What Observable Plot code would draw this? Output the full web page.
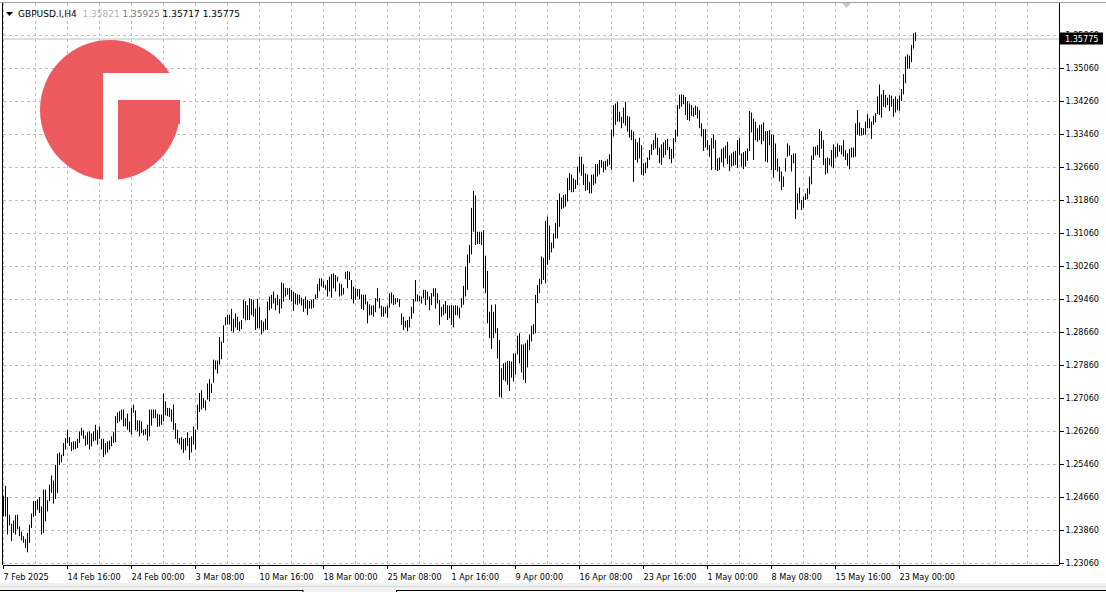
<!DOCTYPE html>
<html><head><meta charset="utf-8">
<script src="https://cdn.jsdelivr.net/npm/d3@7"></script>
<script src="https://cdn.jsdelivr.net/npm/@observablehq/plot@0.6"></script>
<style>
html,body{margin:0;padding:0;background:#fff;overflow:hidden}
#chart{position:relative;width:1106px;height:592px}
</style></head><body><div id="chart"></div>
<script>
// ---- data (GBPUSD.I, H4) ----
const symbol = "GBPUSD.I,H4";
const lastBar = {open:1.35821, high:1.35925, low:1.35717, close:1.35775};
const high = [
1.2469,1.2493,1.2466,1.2423,1.2401,1.2409,1.2422,1.2423,1.2395,1.2382,
1.2371,1.2364,1.2379,1.2399,1.2426,1.2456,1.2456,1.2460,1.2466,1.2443,
1.2484,1.2484,1.2458,1.2496,1.2518,1.2506,1.2544,1.2571,1.2574,1.2569,
1.2597,1.2609,1.2629,1.2611,1.2599,1.2601,1.2601,1.2607,1.2625,1.2634,
1.2628,1.2615,1.2623,1.2625,1.2620,1.2625,1.2641,1.2628,1.2637,1.2607,
1.2607,1.2597,1.2601,1.2603,1.2613,1.2623,1.2662,1.2671,1.2674,1.2678,
1.2678,1.2657,1.2668,1.2649,1.2682,1.2690,1.2676,1.2652,1.2652,1.2649,
1.2629,1.2631,1.2641,1.2678,1.2678,1.2678,1.2678,1.2668,1.2666,1.2666,
1.2717,1.2698,1.2682,1.2682,1.2678,1.2690,1.2645,1.2629,1.2609,1.2611,
1.2607,1.2609,1.2623,1.2609,1.2613,1.2637,1.2629,1.2690,1.2718,1.2725,
1.2706,1.2700,1.2741,1.2752,1.2741,1.2799,1.2797,1.2797,1.2854,1.2843,
1.2882,1.2902,1.2908,1.2908,1.2922,1.2898,1.2911,1.2903,1.2891,1.2895,
1.2944,1.2941,1.2931,1.2948,1.2946,1.2944,1.2923,1.2946,1.2927,1.2895,
1.2891,1.2899,1.2940,1.2952,1.2956,1.2964,1.2948,1.2956,1.2946,1.2986,
1.2984,1.2973,1.2972,1.2973,1.2968,1.2964,1.2960,1.2957,1.2956,1.2949,
1.2946,1.2952,1.2944,1.2941,1.2944,1.2946,1.2957,1.2982,1.2996,1.2996,
1.2990,1.2980,1.2992,1.3000,1.3006,1.3008,1.3004,1.3000,1.2984,1.2982,
1.2973,1.3012,1.3014,1.3012,1.2992,1.2976,1.2972,1.2970,1.2970,1.2957,
1.2956,1.2957,1.2940,1.2933,1.2930,1.2931,1.2948,1.2972,1.2948,1.2930,
1.2927,1.2927,1.2930,1.2960,1.2962,1.2956,1.2948,1.2948,1.2946,1.2911,
1.2903,1.2893,1.2895,1.2903,1.2927,1.2946,1.2992,1.2957,1.2954,1.2952,
1.2968,1.2968,1.2964,1.2952,1.2960,1.2972,1.2972,1.2960,1.2944,1.2927,
1.2933,1.2941,1.2931,1.2930,1.2931,1.2930,1.2931,1.2930,1.2925,1.2948,
1.2978,1.3024,1.3054,1.3077,1.3167,1.3208,1.3197,1.3109,1.3109,1.3109,
1.3113,1.3051,1.3014,1.2915,1.2932,1.2915,1.2933,1.2875,1.2847,1.2778,
1.2790,1.2792,1.2796,1.2796,1.2794,1.2814,1.2814,1.2857,1.2863,1.2836,
1.2836,1.2839,1.2847,1.2860,1.2881,1.2885,1.2956,1.2980,1.2995,1.3049,
1.3046,1.3135,1.3146,1.3124,1.3083,1.3105,1.3130,1.3186,1.3202,1.3192,
1.3198,1.3200,1.3239,1.3251,1.3248,1.3239,1.3235,1.3267,1.3291,1.3291,
1.3273,1.3251,1.3248,1.3230,1.3247,1.3248,1.3273,1.3273,1.3283,1.3283,
1.3279,1.3281,1.3285,1.3297,1.3356,1.3416,1.3420,1.3424,1.3400,1.3388,
1.3410,1.3424,1.3390,1.3388,1.3356,1.3352,1.3334,1.3326,1.3337,1.3319,
1.3275,1.3277,1.3289,1.3307,1.3321,1.3331,1.3348,1.3337,1.3313,1.3321,
1.3326,1.3331,1.3334,1.3315,1.3310,1.3336,1.3356,1.3416,1.3441,1.3442,
1.3441,1.3436,1.3426,1.3420,1.3416,1.3410,1.3415,1.3412,1.3404,1.3372,
1.3358,1.3358,1.3331,1.3319,1.3336,1.3345,1.3331,1.3287,1.3289,1.3310,
1.3313,1.3318,1.3327,1.3294,1.3299,1.3303,1.3305,1.3331,1.3336,1.3299,
1.3302,1.3305,1.3311,1.3402,1.3398,1.3384,1.3376,1.3360,1.3368,1.3369,
1.3374,1.3353,1.3353,1.3356,1.3345,1.3344,1.3323,1.3287,1.3267,1.3255,
1.3243,1.3287,1.3323,1.3318,1.3295,1.3299,1.3299,1.3202,1.3216,1.3186,
1.3194,1.3202,1.3214,1.3243,1.3294,1.3315,1.3315,1.3319,1.3358,1.3353,
1.3331,1.3287,1.3289,1.3287,1.3307,1.3321,1.3315,1.3323,1.3319,1.3318,
1.3331,1.3307,1.3299,1.3310,1.3313,1.3313,1.3372,1.3404,1.3374,1.3361,
1.3360,1.3376,1.3394,1.3384,1.3376,1.3390,1.3396,1.3437,1.3466,1.3442,
1.3453,1.3441,1.3434,1.3441,1.3439,1.3431,1.3437,1.3431,1.3439,1.3455,
1.3491,1.3534,1.3539,1.3536,1.3562,1.3590,1.35925];
const low = [
1.2419,1.2419,1.2375,1.2397,1.2359,1.2379,1.2375,1.2388,1.2371,1.2361,
1.2355,1.2342,1.2332,1.2355,1.2391,1.2418,1.2421,1.2435,1.2427,1.2375,
1.2379,1.2407,1.2431,1.2456,1.2476,1.2450,1.2461,1.2476,1.2544,1.2550,
1.2565,1.2581,1.2597,1.2590,1.2577,1.2581,1.2582,1.2585,1.2597,1.2615,
1.2607,1.2590,1.2593,1.2581,1.2589,1.2601,1.2603,1.2593,1.2607,1.2581,
1.2563,1.2569,1.2574,1.2581,1.2589,1.2597,1.2599,1.2645,1.2649,1.2653,
1.2637,1.2637,1.2629,1.2623,1.2617,1.2670,1.2628,1.2625,1.2613,1.2621,
1.2615,1.2617,1.2603,1.2613,1.2639,1.2657,1.2657,1.2636,1.2637,1.2641,
1.2649,1.2664,1.2662,1.2660,1.2649,1.2629,1.2607,1.2597,1.2593,1.2581,
1.2573,1.2579,1.2590,1.2556,1.2574,1.2593,1.2581,1.2629,1.2672,1.2678,
1.2682,1.2676,1.2702,1.2698,1.2718,1.2743,1.2775,1.2765,1.2787,1.2800,
1.2840,1.2882,1.2884,1.2884,1.2868,1.2865,1.2877,1.2871,1.2868,1.2873,
1.2899,1.2894,1.2895,1.2895,1.2907,1.2903,1.2871,1.2875,1.2875,1.2860,
1.2867,1.2871,1.2871,1.2919,1.2923,1.2935,1.2919,1.2931,1.2911,1.2923,
1.2940,1.2952,1.2956,1.2944,1.2940,1.2917,1.2933,1.2931,1.2935,1.2930,
1.2915,1.2923,1.2907,1.2923,1.2922,1.2925,1.2946,1.2948,1.2965,1.2976,
1.2973,1.2968,1.2952,1.2964,1.2949,1.2972,1.2964,1.2988,1.2952,1.2954,
1.2957,1.2994,1.2972,1.2992,1.2946,1.2935,1.2944,1.2952,1.2946,1.2922,
1.2919,1.2933,1.2887,1.2906,1.2907,1.2903,1.2914,1.2940,1.2923,1.2903,
1.2903,1.2911,1.2901,1.2925,1.2935,1.2931,1.2933,1.2938,1.2927,1.2883,
1.2871,1.2877,1.2868,1.2877,1.2898,1.2911,1.2940,1.2940,1.2940,1.2935,
1.2948,1.2931,1.2944,1.2919,1.2931,1.2952,1.2923,1.2935,1.2883,1.2903,
1.2907,1.2911,1.2895,1.2899,1.2883,1.2877,1.2907,1.2906,1.2899,1.2925,
1.2932,1.2952,1.2968,1.3033,1.3054,1.3109,1.3077,1.3079,1.3079,1.3077,
1.2972,1.2960,1.2887,1.2851,1.2825,1.2851,1.2863,1.2802,1.2709,1.2707,
1.2750,1.2746,1.2738,1.2723,1.2755,1.2746,1.2763,1.2812,1.2790,1.2768,
1.2750,1.2742,1.2780,1.2822,1.2843,1.2860,1.2863,1.2936,1.2960,1.2982,
1.2992,1.2984,1.3029,1.3041,1.3059,1.3069,1.3093,1.3093,1.3121,1.3164,
1.3166,1.3170,1.3182,1.3210,1.3205,1.3205,1.3213,1.3222,1.3253,1.3245,
1.3222,1.3208,1.3210,1.3202,1.3202,1.3222,1.3226,1.3243,1.3248,1.3264,
1.3253,1.3259,1.3267,1.3271,1.3259,1.3340,1.3368,1.3376,1.3376,1.3360,
1.3372,1.3366,1.3352,1.3337,1.3331,1.3230,1.3283,1.3277,1.3287,1.3247,
1.3245,1.3251,1.3263,1.3283,1.3295,1.3307,1.3311,1.3295,1.3275,1.3271,
1.3289,1.3295,1.3307,1.3285,1.3275,1.3287,1.3327,1.3340,1.3407,1.3412,
1.3418,1.3392,1.3380,1.3378,1.3390,1.3388,1.3392,1.3384,1.3360,1.3340,
1.3305,1.3313,1.3307,1.3291,1.3259,1.3311,1.3259,1.3256,1.3259,1.3277,
1.3267,1.3287,1.3273,1.3256,1.3267,1.3269,1.3271,1.3264,1.3295,1.3267,
1.3261,1.3267,1.3281,1.3305,1.3350,1.3283,1.3331,1.3327,1.3331,1.3321,
1.3329,1.3279,1.3277,1.3319,1.3259,1.3240,1.3259,1.3255,1.3231,1.3210,
1.3218,1.3255,1.3291,1.3294,1.3255,1.3275,1.3140,1.3162,1.3178,1.3162,
1.3167,1.3186,1.3188,1.3200,1.3224,1.3283,1.3294,1.3295,1.3289,1.3310,
1.3271,1.3248,1.3251,1.3271,1.3267,1.3263,1.3287,1.3291,1.3303,1.3297,
1.3291,1.3283,1.3269,1.3261,1.3289,1.3289,1.3291,1.3344,1.3342,1.3342,
1.3344,1.3344,1.3360,1.3360,1.3334,1.3368,1.3374,1.3394,1.3392,1.3386,
1.3412,1.3410,1.3416,1.3402,1.3412,1.3388,1.3398,1.3404,1.3402,1.3426,
1.3442,1.3469,1.3504,1.3505,1.3520,1.3553,1.35717];
const xTickIdx = [0,32,64,96,128,160,192,224,256,288,320,352,384,416,448];
const xTickLabels = ["7 Feb 2025","14 Feb 16:00","24 Feb 00:00","3 Mar 08:00","10 Mar 16:00",
  "18 Mar 00:00","25 Mar 08:00","1 Apr 16:00","9 Apr 00:00","16 Apr 08:00","23 Apr 16:00",
  "1 May 00:00","8 May 08:00","15 May 16:00","23 May 00:00"];
const yTickLabels = ["1.23060","1.23860","1.24660","1.25460","1.26260","1.27060","1.27860",
  "1.28660","1.29460","1.30260","1.31060","1.31860","1.32660","1.33460","1.34260","1.35060","1.35860"];
const xGridIdx = [0,16,32,48,64,80,96,112,128,144,160,176,192,208,224,240,256,272,288,304,320,
  336,352,368,384,400,416,432,448,464,480,496,512];

// ---- chart ----
const yTicks = yTickLabels.map(Number);
const bars = high.map((h, i) => ({i, h, l: low[i]}));
const yMin = 1.230115, yMax = 1.366358;
const FONT = "'DejaVu Sans Condensed','DejaVu Sans',sans-serif";

const chart = Plot.plot({
  width: 1106, height: 592,
  marginLeft: 3, marginRight: 47, marginTop: 3, marginBottom: 27,
  style: {fontFamily: FONT, fontSize: "9px", background: "#fff", color: "#000", overflow: "visible"},
  x: {type: "linear", domain: [0, 528], label: null},
  y: {type: "linear", domain: [yMin, yMax], label: null},
  marks: [
    Plot.ruleY(yTicks, {stroke: "#c0c0c0", strokeDasharray: "3,3", strokeOpacity: 1}),
    Plot.ruleX(xGridIdx, {stroke: "#c0c0c0", strokeDasharray: "3,3", strokeOpacity: 1}),
    Plot.ruleY([lastBar.close], {stroke: "#c0c0c0", strokeOpacity: 1}),
    Plot.ruleX(bars, {x: "i", y1: "l", y2: "h", stroke: "#000", strokeWidth: 1, strokeOpacity: 1}),
    Plot.ruleX([528], {stroke: "#000", strokeOpacity: 1}),
    Plot.ruleX([-0.5], {stroke: "#000", strokeOpacity: 1}),
    Plot.ruleY([yMin], {stroke: "#000", strokeOpacity: 1}),
    Plot.axisY(yTicks, {anchor: "right", tickSize: 4, tickPadding: 2, textAnchor: "start",
      tickFormat: d => yTickLabels[yTicks.indexOf(d)], fontSize: 9, fill: "#000", stroke: "#000"}),
    Plot.axisX(xTickIdx, {anchor: "bottom", tickSize: 4, tickPadding: 4, textAnchor: "start",
      tickFormat: d => xTickLabels[xTickIdx.indexOf(d)], fontSize: 9, fill: "#000", stroke: "#000"})
  ]
});
document.getElementById("chart").appendChild(chart);

// decorations using the plot's scales
const svg = d3.select(chart);
const X = chart.scale("x"), Y = chart.scale("y");
const xr = X.apply(528), yc = Y.apply(lastBar.close);

// top border
svg.append("line").attr("x1", 0).attr("x2", 1106).attr("y1", 2.5).attr("y2", 2.5).attr("stroke", "#a0a0a0");

// current price label
svg.append("rect").attr("x", xr + 1).attr("y", yc - 6).attr("width", 43).attr("height", 12).attr("fill", "#000");
svg.append("text").attr("x", xr + 6).attr("y", yc + 3.3).attr("fill", "#fff").attr("text-anchor", "start")
  .attr("font-family", FONT).attr("font-size", 9).text(lastBar.close.toFixed(5));

// header
svg.append("path").attr("d", "M6,12 L13,12 L9.5,16 Z").attr("fill", "#000");
const ht = svg.append("text").attr("x", 18).attr("y", 17.2).attr("text-anchor", "start")
  .attr("font-family", "'DejaVu Sans',sans-serif").attr("font-size", 9);
ht.append("tspan").attr("fill", "#000").text(symbol + "  ");
ht.append("tspan").attr("fill", "#b4b4b4").text(lastBar.open.toFixed(5) + " ");
ht.append("tspan").attr("fill", "#7a7a7a").text(lastBar.high.toFixed(5) + " ");
ht.append("tspan").attr("fill", "#000").text(lastBar.low.toFixed(5) + " " + lastBar.close.toFixed(5));

// logo
const g = svg.append("g");
const red = "#ec5a60";
g.append("circle").attr("cx", 110).attr("cy", 110).attr("r", 70).attr("fill", red);
g.append("rect").attr("x", 103).attr("y", 73).attr("width", 80).attr("height", 27).attr("fill", "#fff");
g.append("rect").attr("x", 103).attr("y", 73).attr("width", 15).attr("height", 110).attr("fill", "#fff");
g.append("rect").attr("x", 118).attr("y", 100).attr("width", 62).attr("height", 24).attr("fill", red);

// shift marker
svg.append("path").attr("d", "M842,3 L851,3 L846.5,8 Z").attr("fill", "#c8c8c8");

// bottom tab strip
svg.append("rect").attr("x", 0).attr("y", 583).attr("width", 1106).attr("height", 9).attr("fill", "#f0f0f0");
svg.append("line").attr("x1", 0).attr("x2", 1106).attr("y1", 586.5).attr("y2", 586.5).attr("stroke", "#d8d8d8");
svg.append("rect").attr("x", -1).attr("y", 590.5).attr("width", 304).attr("height", 4).attr("fill", "#fff").attr("stroke", "#000");
svg.append("rect").attr("x", 396.5).attr("y", 590.5).attr("width", 711).attr("height", 4).attr("fill", "#fff").attr("stroke", "#000");
</script></body></html>
